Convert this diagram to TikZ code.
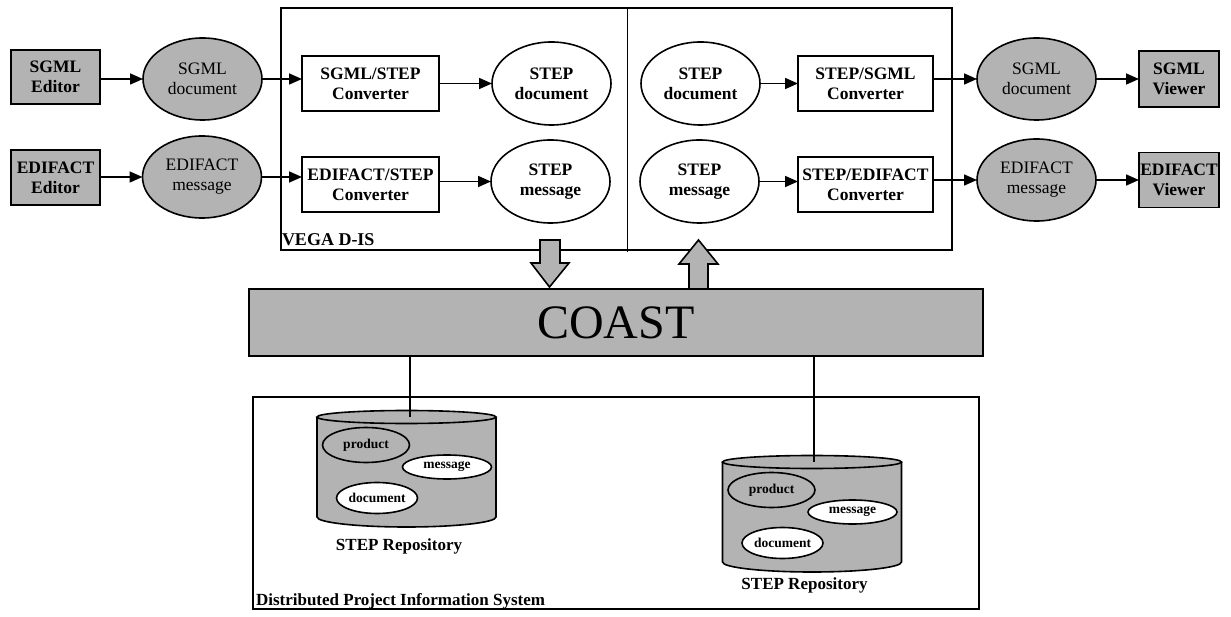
\documentclass[tikz,border=0pt]{standalone}
\usepackage{fontspec}
\setmainfont{Liberation Serif}
\usetikzlibrary{shapes.geometric,arrows.meta}
\definecolor{gr}{RGB}{179,179,179}
\newcommand\repository[5]{%
  \begin{scope}[shift={(#1,#2)}]
    \filldraw[fill=gr, lw] (-89.5,0) -- (-89.5,100)
      arc[start angle=180, end angle=0, x radius=89.5, y radius=10] -- (89.5,0);
    \filldraw[fill=gr, lw] (0,0) ellipse[x radius=89.5, y radius=6.5];
    \coordinate (top#4) at (#5,0);
    \node[smallell, fill=gr, minimum width=87pt, minimum height=35pt] (prod#4) at (-40.5,28) {product};
    \node[smallell, fill=white, minimum width=89pt, minimum height=24pt] (msg#4) at (40.5,50) {message};
    \node[smallell, fill=white, minimum width=81pt, minimum height=31pt] (doc#4) at (-29.5,81) {document};
    \node[anchor=base, font=\fontsize{17}{19}\selectfont\bfseries] (repo#4) at (-7.5,#3) {STEP Repository};
  \end{scope}}
\begin{document}
\begin{tikzpicture}[x=1pt,y=-1pt,
  every node/.style={inner sep=0pt, outer sep=0pt},
  font=\fontsize{17.5}{20}\selectfont,
  lw/.style={line width=1.6pt},
  graybox/.style={draw, lw, fill=gr, align=center, font=\fontsize{17.5}{20}\selectfont\bfseries},
  convbox/.style={draw, lw, fill=white, align=center, minimum width=137pt, minimum height=55pt, font=\fontsize{17.5}{20}\selectfont\bfseries},
  grayell/.style={ellipse, draw, lw, fill=gr, align=center, minimum width=119pt, minimum height=82pt, font=\fontsize{17.5}{20}\selectfont},
  stepell/.style={ellipse, draw, lw, fill=white, align=center, minimum width=119pt, minimum height=83pt, font=\fontsize{17.5}{20}\selectfont\bfseries},
  smallell/.style={ellipse, draw, lw, font=\fontsize{13.5}{15}\selectfont\bfseries},
  flow/.style={-{Triangle[length=13pt,width=11pt]}, lw},
  blockarrow/.style={draw, lw, fill=gr, line join=miter}
]
\useasboundingbox (0,0) rectangle (1231,617);

% VEGA D-IS frame
\node[draw, lw, minimum width=671pt, minimum height=242pt] (vega) at (616.5,129) {};
\draw[lw] (627.5,8) -- (627.5,252);
\node[anchor=base west, font=\fontsize{18}{20}\selectfont\bfseries] (vegalbl) at (282,246) {VEGA D-IS};

% left side
\node[graybox, minimum width=89pt, minimum height=54pt] (sed) at (55.5,77) {SGML\\Editor};
\node[graybox, minimum width=89pt, minimum height=55pt] (eed) at (55.5,177.5) {EDIFACT\\Editor};
\node[grayell] (sdoc) at (202.5,79) {SGML\\document};
\node[grayell] (emsg) at (202,177) {EDIFACT\\message};
\node[convbox] (c1) at (370.5,83.5) {SGML/STEP\\Converter};
\node[convbox] (c2) at (370.5,184.5) {EDIFACT/STEP\\Converter};
\node[stepell] (sd1) at (551.5,83.5) {STEP\\document};
\node[stepell] (sm1) at (550.5,181.5) {STEP\\message};

% right side
\node[stepell] (sd2) at (700.5,83.5) {STEP\\document};
\node[stepell] (sm2) at (699.5,181.5) {STEP\\message};
\node[convbox, minimum width=135pt] (c3) at (865.5,83.5) {STEP/SGML\\Converter};
\node[convbox, minimum width=135pt] (c4) at (865.5,184.5) {STEP/EDIFACT\\Converter};
\node[grayell] (sdoc2) at (1036.5,79) {SGML\\document};
\node[grayell] (emsg2) at (1036.5,180) {EDIFACT\\message};
\node[graybox, minimum width=80pt, minimum height=56pt] (sview) at (1179,79) {SGML\\Viewer};
\node[graybox, minimum width=80pt, minimum height=55pt] (eview) at (1179,180) {EDIFACT\\Viewer};

% flows
\draw[flow] (sed.east |- sdoc) -- (sdoc.west);
\draw[flow] (sdoc.east) -- (sdoc.east -| c1.west);
\draw[flow] (c1.east) -- (sd1.west);
\draw[flow] (sd2.east) -- (c3.west);
\draw[flow] (c3.east |- sdoc2) -- (sdoc2.west);
\draw[flow] (sdoc2.east) -- (sview.west);
\draw[flow] (eed.east |- emsg) -- (emsg.west);
\draw[flow] (emsg.east) -- (emsg.east -| c2.west);
\draw[flow] (c2.east |- sm1) -- (sm1.west);
\draw[flow] (sm2.east) -- (sm2.east -| c4.west);
\draw[flow] (c4.east |- emsg2) -- (emsg2.west);
\draw[flow] (emsg2.east) -- (eview.west);

% COAST
\node[draw, lw, fill=gr, minimum width=734pt, minimum height=67pt, font=\fontsize{48}{50}\selectfont] (coast) at (616,322.5) {COAST};

% block arrows between VEGA D-IS and COAST
\coordinate (downtip) at (549.5,287);
\coordinate (uptip) at (698.5,240);
\draw[blockarrow] (downtip) -- ++(-18.5,-24) -- ++(9,0) -- ++(0,-23) -- ++(20,0) -- ++(0,23) -- ++(9,0) -- cycle;
\draw[blockarrow] (uptip) -- ++(-19.5,24) -- ++(10,0) -- (689,0 |- coast.north) -- (708,0 |- coast.north) -- (708,264) -- (718,264) -- cycle;

% Distributed Project Information System
\node[draw, lw, minimum width=726pt, minimum height=212pt] (dpis) at (616,503) {};
\node[anchor=base west, font=\fontsize{17}{19}\selectfont\bfseries] (dpislbl) at (256,605) {Distributed Project Information System};

\repository{406.5}{417}{133.5}{A}{3.5}
\repository{812}{462}{127}{B}{2}

\draw[lw] (coast.south -| topA) -- (topA);
\draw[lw] (coast.south -| topB) -- (topB);
\end{tikzpicture}
\end{document}
